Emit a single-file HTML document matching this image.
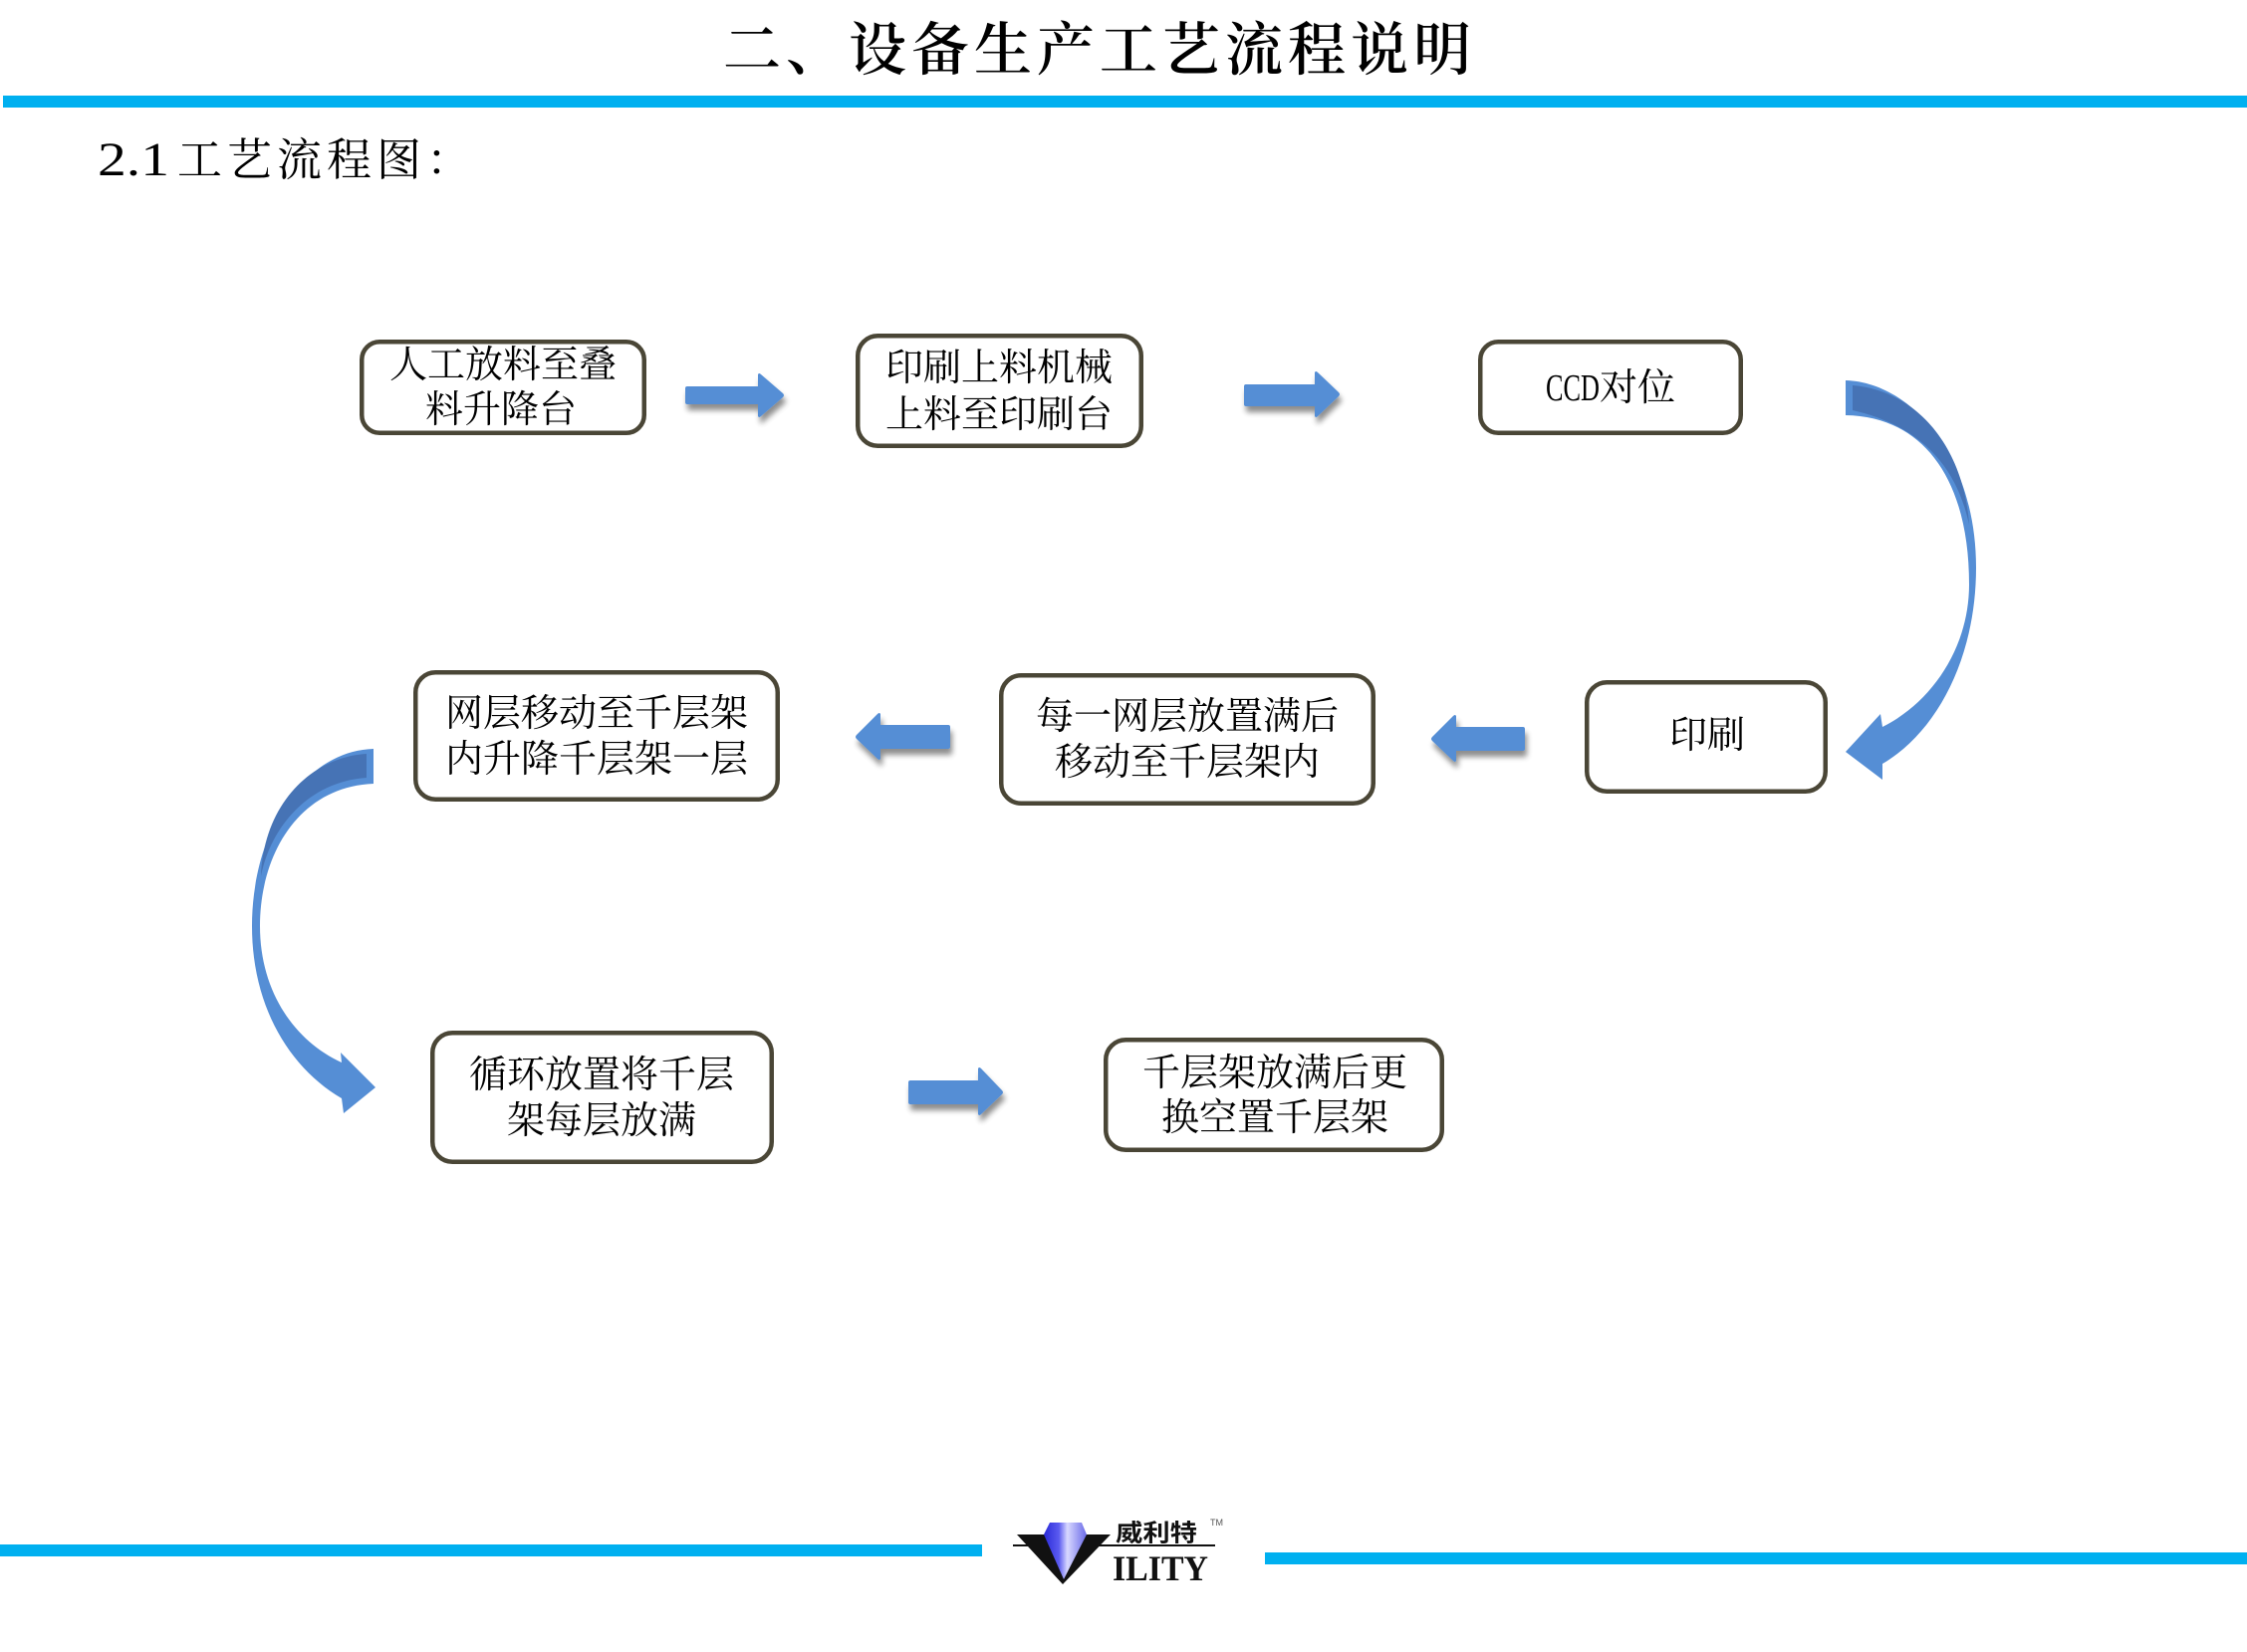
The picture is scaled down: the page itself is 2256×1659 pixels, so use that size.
<!DOCTYPE html>
<html>
<head>
<meta charset="utf-8">
<style>
  html,body{margin:0;padding:0;background:#fff;}
  body{width:2256px;height:1659px;overflow:hidden;}
  svg{display:block;}
  .bx{fill:#fff;stroke:#4a4636;stroke-width:4.5;}
  .t{font-family:"Liberation Serif","Noto Serif CJK SC",serif;font-size:38px;fill:#000;text-anchor:middle;dominant-baseline:central;}
  .arr{fill:#558ED5;}
</style>
</head>
<body>
<svg width="2256" height="1659" viewBox="0 0 2256 1659" xmlns="http://www.w3.org/2000/svg">
  <defs>
    <filter id="sh" x="-20%" y="-40%" width="140%" height="200%">
      <feGaussianBlur in="SourceAlpha" stdDeviation="3"/>
      <feOffset dx="2" dy="6" result="b"/>
      <feComponentTransfer><feFuncA type="linear" slope="0.45"/></feComponentTransfer>
      <feMerge><feMergeNode/><feMergeNode in="SourceGraphic"/></feMerge>
    </filter>
    <linearGradient id="dia" x1="0" y1="0" x2="1" y2="0">
      <stop offset="0" stop-color="#2a2ad8"/>
      <stop offset="0.35" stop-color="#5a5af0"/>
      <stop offset="0.55" stop-color="#d8d8ff"/>
      <stop offset="1" stop-color="#6a6ae8"/>
    </linearGradient>
  </defs>

  <!-- Header -->
  <text x="726" y="45" style="font-family:'Noto Serif CJK SC','Noto Sans CJK SC',serif;font-size:58px;font-weight:600;letter-spacing:5px;dominant-baseline:central;fill:#000;">二、设备生产工艺流程说明</text>
  <rect x="3" y="96" width="2253" height="12" fill="#00B0F0"/>

  <text x="98" y="176" textLength="72" lengthAdjust="spacingAndGlyphs" style="font-family:'Liberation Serif',serif;font-size:48px;fill:#000;">2.1</text>
  <text x="178" y="161" style="font-family:'Liberation Serif','Noto Serif CJK SC',serif;font-size:45px;letter-spacing:5px;dominant-baseline:central;fill:#000;">工艺流程图：</text>

  <!-- Boxes -->
  <rect class="bx" x="363.25" y="343.25" width="283.5" height="91.5" rx="18"/>
  <text class="t" x="505" y="367">人工放料至叠</text>
  <text class="t" x="503" y="412">料升降台</text>

  <rect class="bx" x="861.25" y="337.25" width="284.5" height="110.5" rx="20"/>
  <text class="t" x="1003" y="370">印刷上料机械</text>
  <text class="t" x="1003" y="417">上料至印刷台</text>

  <rect class="bx" x="1486.25" y="343.25" width="261.5" height="91.5" rx="18"/>
  <text x="1552" y="390" textLength="54" lengthAdjust="spacingAndGlyphs" style="font-family:'Liberation Serif',serif;font-size:38px;dominant-baseline:central;fill:#000;">CCD</text>
  <text x="1606" y="390" style="font-family:'Liberation Serif','Noto Serif CJK SC',serif;font-size:38px;dominant-baseline:central;fill:#000;">对位</text>

  <rect class="bx" x="1593.25" y="685.25" width="239.5" height="109.5" rx="20"/>
  <text class="t" x="1714" y="739">印刷</text>

  <rect class="bx" x="1005.25" y="678.25" width="373.5" height="128.5" rx="20"/>
  <text class="t" x="1192" y="720">每一网层放置满后</text>
  <text class="t" x="1192" y="766">移动至千层架内</text>

  <rect class="bx" x="417.25" y="675.25" width="363.5" height="127.5" rx="20"/>
  <text class="t" x="599" y="717">网层移动至千层架</text>
  <text class="t" x="599" y="763">内升降千层架一层</text>

  <rect class="bx" x="434.25" y="1037.25" width="340.5" height="129.5" rx="20"/>
  <text class="t" x="604" y="1080">循环放置将千层</text>
  <text class="t" x="604" y="1126">架每层放满</text>

  <rect class="bx" x="1110.25" y="1044.25" width="337.5" height="110.5" rx="20"/>
  <text class="t" x="1280" y="1078">千层架放满后更</text>
  <text class="t" x="1280" y="1123">换空置千层架</text>

  <!-- Block arrows -->
  <g filter="url(#sh)" class="arr">
    <path d="M690,388 L761,388 L761,376 Q762,374 764,376 L786,395 Q788,397 786,399 L764,418 Q762,420 761,418 L761,406 L690,406 Q688,406 688,404 L688,390 Q688,388 690,388 Z"/>
    <path d="M1251,386 L1320,386 L1320,374 Q1321,372 1323,374 L1344,394 Q1346,396 1344,398 L1323,418 Q1321,420 1320,418 L1320,408 L1251,408 Q1249,408 1249,406 L1249,388 Q1249,386 1251,386 Z"/>
    <path d="M914,1085 L982,1085 L982,1073 Q983,1071 985,1073 L1006,1095 Q1008,1097 1006,1099 L985,1119 Q983,1121 982,1119 L982,1109 L914,1109 Q912,1109 912,1107 L912,1087 Q912,1085 914,1085 Z"/>
    <path d="M1529,730 L1462,730 L1462,719 Q1461,717 1459,719 L1438,740 Q1436,742 1438,744 L1459,764 Q1461,766 1462,764 L1462,754 L1529,754 Q1531,754 1531,752 L1531,732 Q1531,730 1529,730 Z"/>
    <path d="M952,728 L884,728 L884,717 Q883,715 881,717 L860,738 Q858,740 860,742 L881,762 Q883,764 884,762 L884,752 L952,752 Q954,752 954,750 L954,730 Q954,728 952,728 Z"/>
  </g>

  <!-- Right curved arrow -->
  <path class="arr" d="M1853,382 C1920,384 1984,460 1984,570 C1984,660 1945,735 1890,767 L1890,783 L1853,755 L1888,717 L1890,730 C1940,705 1977,650 1977,587 C1977,480 1930,418 1853,417 Z"/>
  <path fill="#4673B5" d="M1860,387 C1925,392 1972,450 1977,527 C1965,470 1930,428 1860,412 Z"/>

  <!-- Left curved arrow -->
  <path class="arr" d="M375,752 C305,754 253,835 253,930 C253,1010 290,1072 343,1103 L345,1118 L377,1092 L342,1057 L343,1067 C295,1045 261,995 261,930 C261,858 300,790 375,787 Z"/>
  <path fill="#4673B5" d="M368,757 C315,760 265,805 262,880 C272,830 310,785 368,781 Z"/>

  <!-- Footer lines -->
  <rect x="0" y="1551" width="986" height="12" fill="#00B0F0"/>
  <rect x="1270" y="1559" width="986" height="12" fill="#00B0F0"/>

  <!-- Logo -->
  <rect x="1017" y="1551" width="203" height="2" fill="#111"/>
  <polygon points="1021,1541 1115,1541 1067,1591" fill="#111"/>
  <polygon points="1054,1529 1086,1529 1091,1541 1068,1586 1048,1541" fill="url(#dia)"/>
  <text x="1120" y="1537" textLength="82" lengthAdjust="spacingAndGlyphs" style="font-family:'Noto Sans CJK SC','WenQuanYi Zen Hei',sans-serif;font-size:24px;font-weight:700;dominant-baseline:central;fill:#111;">威利特</text>
  <text x="1215" y="1532" style="font-family:'Liberation Sans',sans-serif;font-size:9px;fill:#555;">TM</text>
  <text x="1117" y="1587" textLength="96" lengthAdjust="spacingAndGlyphs" style="font-family:'Liberation Serif',serif;font-size:36px;font-weight:700;fill:#111;">ILITY</text>
</svg>
</body>
</html>
